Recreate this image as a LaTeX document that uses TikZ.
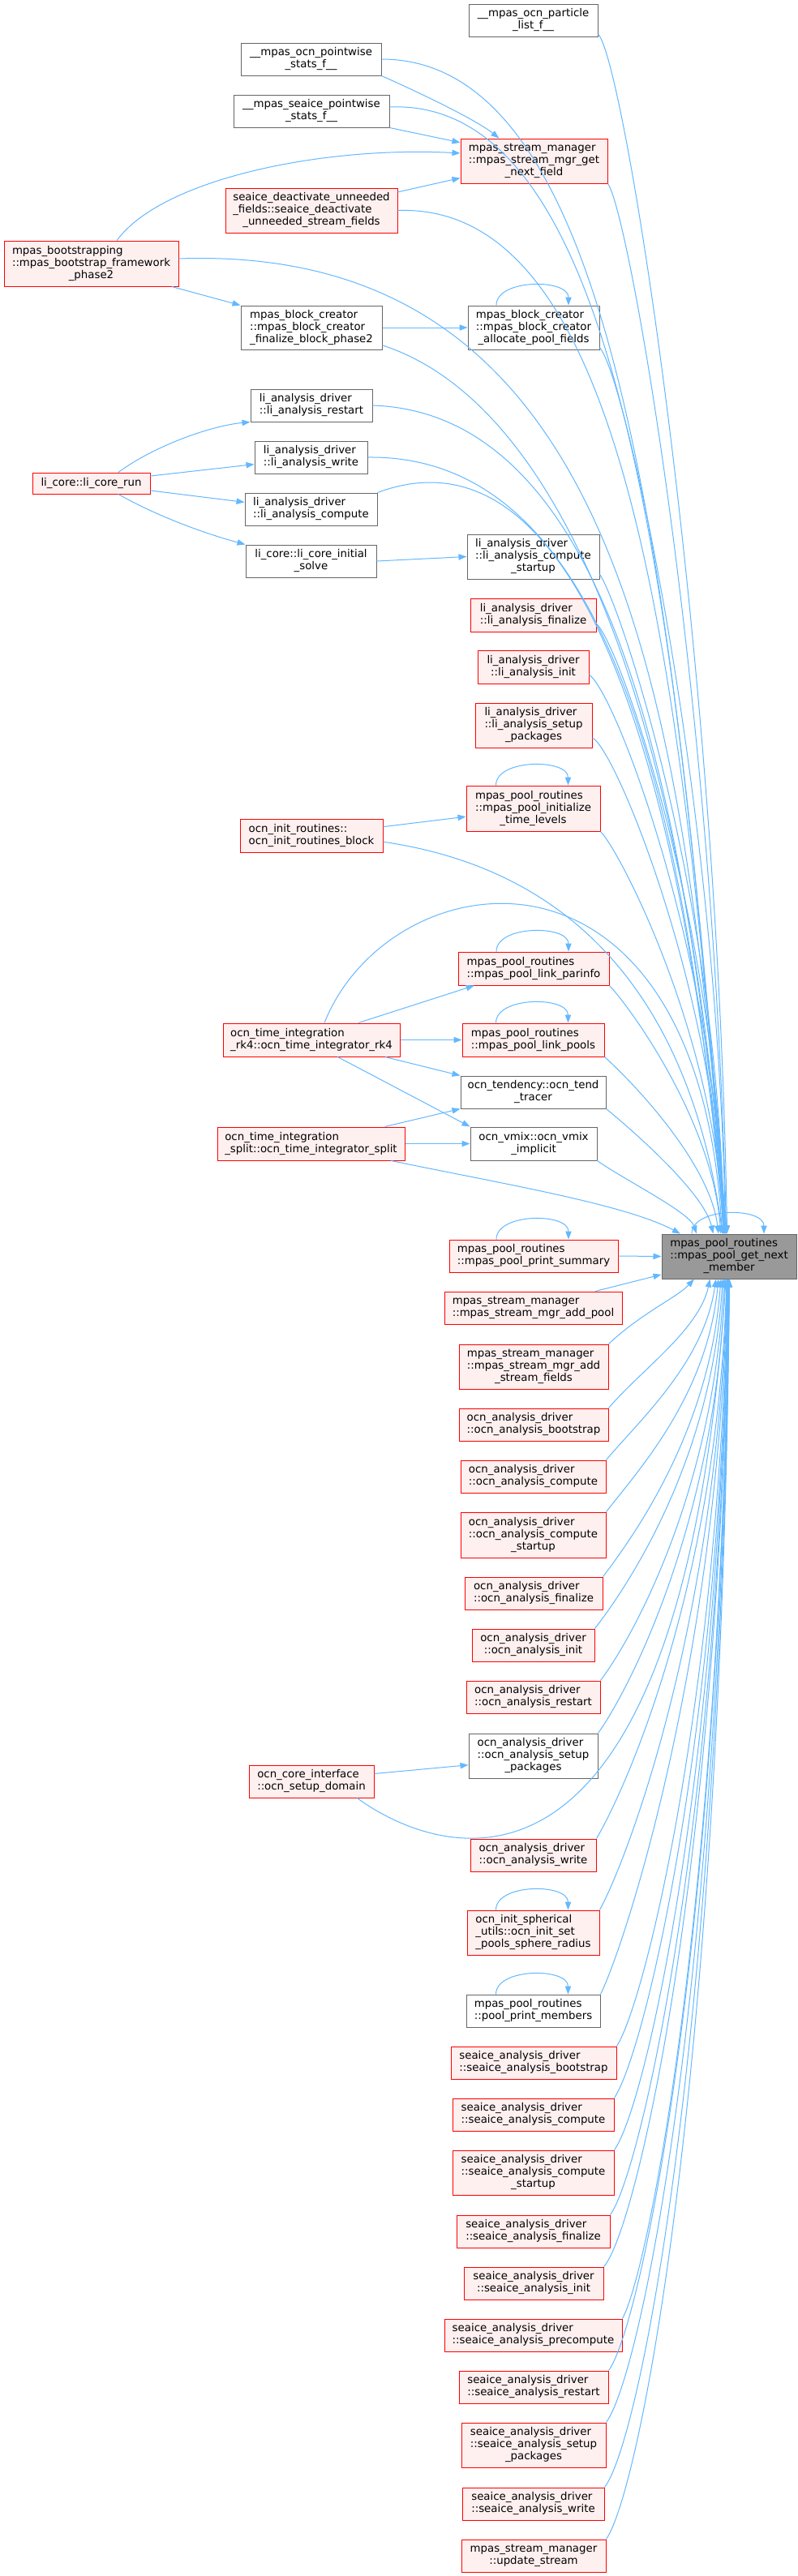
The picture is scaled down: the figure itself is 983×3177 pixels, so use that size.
\documentclass[tikz,border=0pt]{standalone}
\usepackage{fontspec}
\setmainfont{DejaVu Sans}
\usetikzlibrary{arrows.meta,calc}
\definecolor{edgec}{HTML}{63B8FF}
\definecolor{redb}{HTML}{FF0000}
\definecolor{redf}{HTML}{FFF0F0}
\definecolor{grayb}{HTML}{666666}
\definecolor{mainf}{HTML}{999999}
\newcommand{\dxlab}[2]{\begin{tabular}{@{}l@{}}#1\\\multicolumn{1}{@{}c@{}}{#2}\end{tabular}}
\newcommand{\dxnode}[7]{\node[#2, minimum width={(#5-#3)*0.75pt}, minimum height={(#6-#4)*0.75pt}] (#1) at ({(#3+#5)/2},{(#4+#6)/2}) {#7};}
\newcommand{\dxloop}[1]{\draw[edg] ($(#1.north)+(-46,0)$) .. controls +(0,-33) and +(0,-33) .. ($(#1.north)+(43,0)$);}
\tikzset{
 base/.style={rectangle, draw, line width=0.75pt, inner sep=0pt, font=\fontsize{10}{11.25}\selectfont},
 rn/.style={base, draw=redb, fill=redf},
 gn/.style={base, draw=grayb, fill=white},
 mn/.style={base, draw=grayb, fill=mainf},
 edg/.style={draw=edgec, line width=0.75pt, -{Triangle[length=7.5pt,width=5.5pt]}},
}
\begin{document}
\begin{tikzpicture}[x=0.75pt,y=-0.75pt]
\useasboundingbox (0,0) rectangle (983,3177);
\fill[white] (0,0) rectangle (983,3177);
% nodes
\dxnode{pl}{gn}{578}{5}{737}{45}{\dxlab{\_\_mpas\_ocn\_particle}{\_list\_f\_\_}}
\dxnode{ops}{gn}{297}{53}{470}{93}{\dxlab{\_\_mpas\_ocn\_pointwise}{\_stats\_f\_\_}}
\dxnode{sps}{gn}{288}{117}{480}{157}{\dxlab{\_\_mpas\_seaice\_pointwise}{\_stats\_f\_\_}}
\dxnode{gnf}{rn}{568}{171}{749}{226}{\dxlab{mpas\_stream\_manager\\::mpas\_stream\_mgr\_get}{\_next\_field}}
\dxnode{sdu}{rn}{278}{232}{490}{287}{\dxlab{seaice\_deactivate\_unneeded\\\_fields::seaice\_deactivate}{\_unneeded\_stream\_fields}}
\dxnode{bs}{rn}{5}{297}{220}{353}{\dxlab{mpas\_bootstrapping\\::mpas\_bootstrap\_framework}{\_phase2}}
\dxnode{fbp}{gn}{297}{377}{471}{431}{\dxlab{mpas\_block\_creator\\::mpas\_block\_creator}{\_finalize\_block\_phase2}}
\dxnode{apf}{gn}{577}{377}{739}{431}{\dxlab{mpas\_block\_creator\\::mpas\_block\_creator}{\_allocate\_pool\_fields}}
\dxnode{lar}{gn}{309}{480}{459}{520}{\dxlab{li\_analysis\_driver}{::li\_analysis\_restart}}
\dxnode{law}{gn}{314}{544}{453}{584}{\dxlab{li\_analysis\_driver}{::li\_analysis\_write}}
\dxnode{lcr}{rn}{40}{583}{185}{609}{li\_core::li\_core\_run}
\dxnode{lac}{gn}{302}{608}{465}{648}{\dxlab{li\_analysis\_driver}{::li\_analysis\_compute}}
\dxnode{lis}{gn}{303}{672}{464}{712}{\dxlab{li\_core::li\_core\_initial}{\_solve}}
\dxnode{lcs}{gn}{576}{659}{739}{714}{\dxlab{li\_analysis\_driver\\::li\_analysis\_compute}{\_startup}}
\dxnode{lfi}{rn}{580}{738}{735}{779}{\dxlab{li\_analysis\_driver}{::li\_analysis\_finalize}}
\dxnode{lin}{rn}{589}{802}{726}{843}{\dxlab{li\_analysis\_driver}{::li\_analysis\_init}}
\dxnode{lsp}{rn}{586}{867}{730}{922}{\dxlab{li\_analysis\_driver\\::li\_analysis\_setup}{\_packages}}
\dxnode{itl}{rn}{575}{969}{740}{1025}{\dxlab{mpas\_pool\_routines\\::mpas\_pool\_initialize}{\_time\_levels}}
\dxnode{oirb}{rn}{296}{1010}{472}{1051}{\dxlab{ocn\_init\_routines::}{ocn\_init\_routines\_block}}
\dxnode{lpi}{rn}{565}{1174}{751}{1215}{\dxlab{mpas\_pool\_routines}{::mpas\_pool\_link\_parinfo}}
\dxnode{rk4}{rn}{275}{1262}{493}{1303}{\dxlab{ocn\_time\_integration}{\_rk4::ocn\_time\_integrator\_rk4}}
\dxnode{lpp}{rn}{570}{1262}{745}{1303}{\dxlab{mpas\_pool\_routines}{::mpas\_pool\_link\_pools}}
\dxnode{ltt}{gn}{568}{1327}{747}{1367}{\dxlab{ocn\_tendency::ocn\_tend}{\_tracer}}
\dxnode{spl}{rn}{268}{1390}{499}{1431}{\dxlab{ocn\_time\_integration}{\_split::ocn\_time\_integrator\_split}}
\dxnode{vmx}{gn}{580}{1390}{736}{1431}{\dxlab{ocn\_vmix::ocn\_vmix}{\_implicit}}
\dxnode{pps}{rn}{554}{1529}{762}{1569}{\dxlab{mpas\_pool\_routines}{::mpas\_pool\_print\_summary}}
\dxnode{M}{mn}{816}{1522}{982}{1577}{\dxlab{mpas\_pool\_routines\\::mpas\_pool\_get\_next}{\_member}}
\dxnode{sap}{rn}{548}{1593}{767}{1633}{\dxlab{mpas\_stream\_manager}{::mpas\_stream\_mgr\_add\_pool}}
\dxnode{sas}{rn}{566}{1658}{750}{1713}{\dxlab{mpas\_stream\_manager\\::mpas\_stream\_mgr\_add}{\_stream\_fields}}
\dxnode{oab}{rn}{566}{1737}{750}{1777}{\dxlab{ocn\_analysis\_driver}{::ocn\_analysis\_bootstrap}}
\dxnode{oac}{rn}{568}{1801}{747}{1841}{\dxlab{ocn\_analysis\_driver}{::ocn\_analysis\_compute}}
\dxnode{ocs}{rn}{568}{1865}{747}{1921}{\dxlab{ocn\_analysis\_driver\\::ocn\_analysis\_compute}{\_startup}}
\dxnode{ofi}{rn}{573}{1945}{743}{1985}{\dxlab{ocn\_analysis\_driver}{::ocn\_analysis\_finalize}}
\dxnode{oin}{rn}{582}{2009}{733}{2049}{\dxlab{ocn\_analysis\_driver}{::ocn\_analysis\_init}}
\dxnode{ore}{rn}{575}{2073}{740}{2113}{\dxlab{ocn\_analysis\_driver}{::ocn\_analysis\_restart}}
\dxnode{osp}{gn}{578}{2138}{737}{2193}{\dxlab{ocn\_analysis\_driver\\::ocn\_analysis\_setup}{\_packages}}
\dxnode{osd}{rn}{307}{2177}{461}{2217}{\dxlab{ocn\_core\_interface}{::ocn\_setup\_domain}}
\dxnode{owr}{rn}{580}{2268}{735}{2308}{\dxlab{ocn\_analysis\_driver}{::ocn\_analysis\_write}}
\dxnode{ois}{rn}{576}{2356}{739}{2411}{\dxlab{ocn\_init\_spherical\\\_utils::ocn\_init\_set}{\_pools\_sphere\_radius}}
\dxnode{ppm}{gn}{575}{2460}{740}{2500}{\dxlab{mpas\_pool\_routines}{::pool\_print\_members}}
\dxnode{sbo}{rn}{556}{2524}{760}{2564}{\dxlab{seaice\_analysis\_driver}{::seaice\_analysis\_bootstrap}}
\dxnode{sco}{rn}{558}{2588}{757}{2628}{\dxlab{seaice\_analysis\_driver}{::seaice\_analysis\_compute}}
\dxnode{scs}{rn}{558}{2652}{757}{2707}{\dxlab{seaice\_analysis\_driver\\::seaice\_analysis\_compute}{\_startup}}
\dxnode{sfi}{rn}{563}{2732}{752}{2772}{\dxlab{seaice\_analysis\_driver}{::seaice\_analysis\_finalize}}
\dxnode{sin}{rn}{572}{2796}{744}{2836}{\dxlab{seaice\_analysis\_driver}{::seaice\_analysis\_init}}
\dxnode{spc}{rn}{548}{2860}{767}{2900}{\dxlab{seaice\_analysis\_driver}{::seaice\_analysis\_precompute}}
\dxnode{sre}{rn}{566}{2924}{750}{2964}{\dxlab{seaice\_analysis\_driver}{::seaice\_analysis\_restart}}
\dxnode{ssp}{rn}{569}{2988}{747}{3043}{\dxlab{seaice\_analysis\_driver\\::seaice\_analysis\_setup}{\_packages}}
\dxnode{swr}{rn}{570}{3068}{745}{3108}{\dxlab{seaice\_analysis\_driver}{::seaice\_analysis\_write}}
\dxnode{ust}{rn}{569}{3132}{747}{3172}{\dxlab{mpas\_stream\_manager}{::update\_stream}}
% self loops
\dxloop{apf}
\dxloop{itl}
\dxloop{lpi}
\dxloop{lpp}
\dxloop{pps}
\dxloop{M}
\dxloop{ois}
\dxloop{ppm}
% edges between callers
\draw[edg] (ops.south east) .. controls (530,120) and (590,150) .. (gnf.147);
\draw[edg] (sps.south east) -- (gnf.166);
\draw[edg] (bs.42) .. controls (200,220) and (400,180) .. (gnf.174);
\draw[edg] (sdu.12) -- (gnf.193);
\draw[edg] (bs.-16) -- (fbp.north west);
\draw[edg] (fbp.east) -- (apf.west);
\draw[edg] (lcr.22) .. controls (190,550) and (260,525) .. (lar.south west);
\draw[edg] (lcr.7) -- (law.187);
\draw[edg] (lcr.-7) -- (lac.174);
\draw[edg] (lcr.-22) .. controls (200,640) and (260,660) .. (lis.north west);
\draw[edg] (lis.east) -- (lcs.west);
\draw[edg] (oirb.7) -- (itl.187);
\draw[edg] (rk4.20) -- (lpi.196);
\draw[edg] (rk4.east) -- (lpp.west);
\draw[edg] (rk4.-13) -- (ltt.north west);
\draw[edg] (rk4.-33) -- (vmx.north west);
\draw[edg] (spl.13) -- (ltt.south west);
\draw[edg] (spl.east) -- (vmx.west);
\draw[edg] (osd.7) -- (osp.188);
% edges to main from above
\draw[edg] (pl.-12) .. controls (770,75) and (885,800) .. (M.95);
\draw[edg] (ops.east) .. controls (760,73) and (830,700) .. (M.96);
\draw[edg] (sps.3) .. controls (770,120) and (835,750) .. (M.97);
\draw[edg] (gnf.south east) .. controls (775,260) and (880,850) .. (M.97);
\draw[edg] (sdu.east) .. controls (770,250) and (840,800) .. (M.98);
\draw[edg] ([yshift=4.5pt]bs.east) .. controls (760,300) and (845,850) .. (M.99);
\draw[edg] (apf.-17) .. controls (770,460) and (885,980) .. (M.99);
\draw[edg] (fbp.-14) .. controls (700,500) and (850,900) .. (M.100);
\draw[edg] (lar.east) .. controls (760,510) and (850,1000) .. (M.101);
\draw[edg] (law.east) .. controls (770,560) and (850,1050) .. (M.102);
\draw[edg] (lac.north east) .. controls (700,520) and (840,900) .. (M.102);
\draw[edg] (lcs.-15) .. controls (765,745) and (886,1110) .. (M.103);
\draw[edg] (lfi.-8) .. controls (765,795) and (886,1150) .. (M.103);
\draw[edg] (lin.-8) .. controls (760,855) and (885,1190) .. (M.104);
\draw[edg] (lsp.-12) .. controls (760,925) and (884,1230) .. (M.104);
\draw[edg] (itl.south east) .. controls (765,1050) and (883,1280) .. (M.105);
\draw[edg] (oirb.-5) .. controls (760,1080) and (860,1300) .. (M.106);
\draw[edg] (lpi.south east) .. controls (775,1240) and (878,1380) .. (M.110);
\draw[edg] ([xshift=12pt]rk4.north) .. controls (480,1060) and (860,1000) .. (M.107);
\draw[edg] (lpp.south east) .. controls (770,1325) and (875,1430) .. (M.115);
\draw[edg] (ltt.south east) .. controls (775,1390) and (868,1470) .. (M.125);
\draw[edg] (vmx.-15) .. controls (770,1455) and (850,1495) .. (M.145);
\draw[edg] (spl.-12) .. controls (620,1460) and (770,1485) .. (M.155);
\draw[edg] (pps.east) -- (M.west);
% edges to main from below
\draw[edg] (sap.15) -- (M.195);
\draw[edg] (sas.north east) .. controls (790,1620) and (835,1600) .. (M.-147);
\draw[edg] (oab.north east) .. controls (790,1690) and (862,1640) .. (M.-130);
\draw[edg] (oac.north east) .. controls (790,1750) and (868,1680) .. (M.-120);
\draw[edg] (ocs.north east) .. controls (790,1810) and (872,1720) .. (M.-115);
\draw[edg] (ofi.north east) .. controls (785,1890) and (876,1760) .. (M.-110);
\draw[edg] (oin.north east) .. controls (775,1955) and (878,1800) .. (M.-106);
\draw[edg] (ore.north east) .. controls (780,2020) and (880,1840) .. (M.-103);
\draw[edg] (osp.north east) .. controls (775,2085) and (882,1880) .. (M.-100);
\draw[edg] (osd.-20) .. controls (540,2290) and (840,2400) .. (M.-98);
\draw[edg] (owr.north east) .. controls (775,2200) and (884,1950) .. (M.-96);
\draw[edg] (ois.north east) .. controls (775,2290) and (884,2000) .. (M.-95);
\draw[edg] (ppm.north east) .. controls (770,2400) and (885,2050) .. (M.-94);
\draw[edg] (sbo.north east) .. controls (795,2470) and (885,2100) .. (M.-93);
\draw[edg] (sco.north east) .. controls (795,2530) and (886,2150) .. (M.-92);
\draw[edg] (scs.north east) .. controls (795,2600) and (886,2200) .. (M.-92);
\draw[edg] (sfi.north east) .. controls (790,2680) and (887,2250) .. (M.-91);
\draw[edg] (sin.north east) .. controls (785,2750) and (887,2300) .. (M.-91);
\draw[edg] (spc.north east) .. controls (800,2800) and (888,2350) .. (M.-90);
\draw[edg] (sre.north east) .. controls (790,2870) and (888,2400) .. (M.-90);
\draw[edg] (ssp.north east) .. controls (790,2930) and (889,2450) .. (M.-90);
\draw[edg] (swr.north east) .. controls (790,3010) and (889,2500) .. (M.-89);
\draw[edg] (ust.north east) .. controls (790,3070) and (890,2550) .. (M.-89);
\end{tikzpicture}
\end{document}
